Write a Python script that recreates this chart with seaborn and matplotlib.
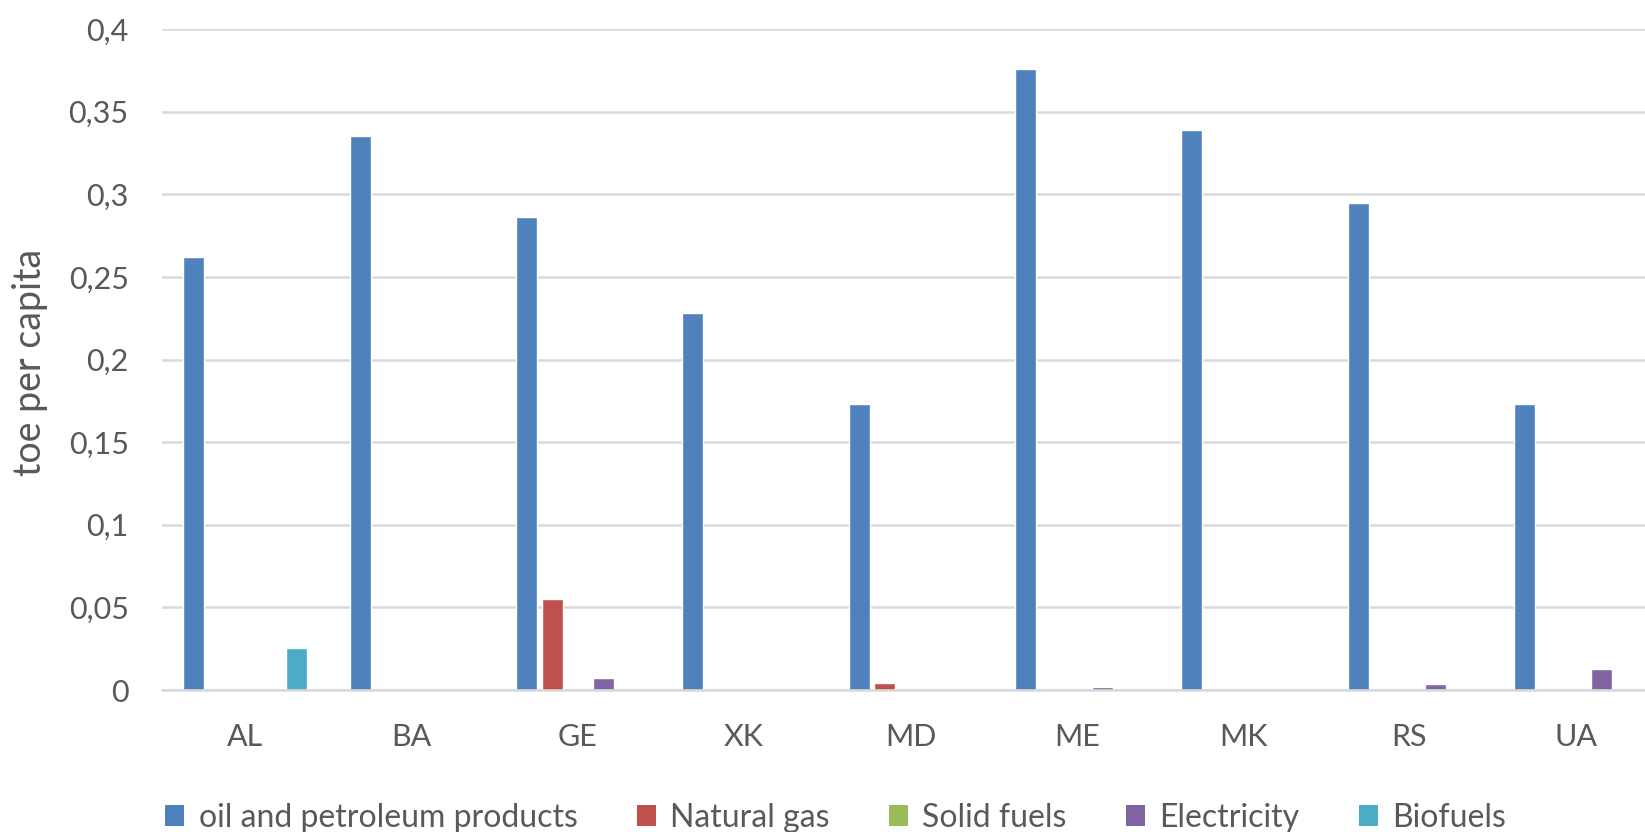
import matplotlib
matplotlib.use("Agg")
import matplotlib.pyplot as plt
import matplotlib.ticker as mticker
from matplotlib.patches import Patch
import numpy as np
import pandas as pd
import seaborn as sns

# Final energy consumption in transport by fuel, toe per capita
countries = ["AL", "BA", "GE", "XK", "MD", "ME", "MK", "RS", "UA"]
fuels = ["oil and petroleum products", "Natural gas", "Solid fuels", "Electricity", "Biofuels"]
oil = [0.262, 0.335, 0.286, 0.228, 0.173, 0.376, 0.339, 0.295, 0.173]
natural_gas = [0.0, 0.0, 0.055, 0.0, 0.004, 0.0, 0.0, 0.0, 0.0]
solid_fuels = [0.0, 0.0, 0.0, 0.0, 0.0, 0.0, 0.0, 0.0, 0.0]
electricity = [0.0, 0.0, 0.0075, 0.0, 0.0, 0.002, 0.0, 0.0037, 0.0128]
biofuels = [0.0255, 0.0, 0.0, 0.0, 0.0, 0.0, 0.0, 0.0, 0.0]
colors = ["#4F81BD", "#C0504D", "#9BBB59", "#8064A2", "#4BACC6"]
yticks = [0, 0.05, 0.1, 0.15, 0.2, 0.25, 0.3, 0.35, 0.4]

series = [oil, natural_gas, solid_fuels, electricity, biofuels]
df = pd.DataFrame(
    [(c, f, v) for f, vals in zip(fuels, series) for c, v in zip(countries, vals)],
    columns=["country", "fuel", "value"],
)

sns.set_theme(style="white")
plt.rcParams["font.family"] = ["Lato", "DejaVu Sans"]
text_color = "#595959"
grid_color = "#D9D9D9"
fs = 22

fig = plt.figure(figsize=(16.45, 8.32), dpi=100)
ax = fig.add_axes([162 / 1645, 1 - 690 / 832, 1497 / 1645, 661 / 832])

sns.barplot(
    data=df, x="country", y="value", hue="fuel", order=countries, hue_order=fuels,
    palette=colors, width=0.77, gap=0.18, saturation=1, ax=ax, legend=False,
)

ax.set_ylim(0, 0.4)
ax.set_xlim(-0.5, len(countries) - 0.5)
ax.set_yticks(yticks)
ax.yaxis.set_major_formatter(
    mticker.FuncFormatter(lambda v, _: ("%g" % round(v, 3)).replace(".", ","))
)
ax.grid(axis="y", color=grid_color, linewidth=1.8)
ax.set_axisbelow(True)
for side in ["top", "right", "left"]:
    ax.spines[side].set_visible(False)
ax.spines["bottom"].set_color(grid_color)
ax.spines["bottom"].set_linewidth(1.8)

ax.tick_params(axis="y", length=0, pad=24, labelsize=fs, labelcolor=text_color)
ax.tick_params(axis="x", which="major", length=0, pad=24, labelsize=fs, labelcolor=text_color)
ax.set_xticks(np.arange(-0.5, len(countries), 1.0), minor=True)
ax.tick_params(axis="x", which="minor", direction="inout", length=26, width=1.8, color=grid_color)

ax.set_xlabel("")
ax.set_ylabel("toe per capita", fontsize=27, color=text_color)
ax.yaxis.set_label_coords(-0.076, 0.496)

handles = [Patch(facecolor=c, edgecolor="none", label=f) for c, f in zip(colors, fuels)]
fig.legend(
    handles=handles, loc="center", bbox_to_anchor=(0.508, 0.017), ncol=5, frameon=False,
    fontsize=23, labelcolor=text_color, handlelength=0.6, handleheight=0.66,
    handletextpad=0.45, columnspacing=1.85,
)

fig.savefig("out.png", dpi=100, facecolor="white")
